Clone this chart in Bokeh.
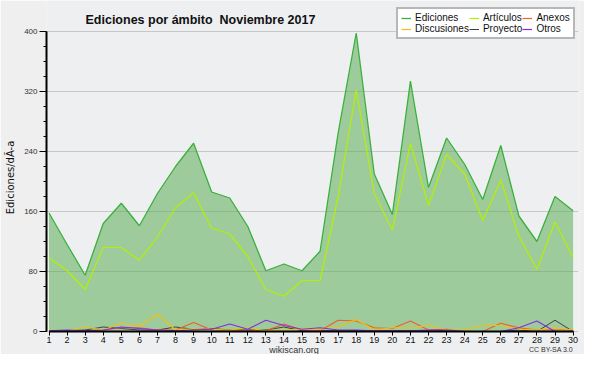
from bokeh.plotting import figure
from bokeh.models import (ColumnDataSource, SingleIntervalTicker, FixedTicker, Legend, LegendItem,
                          Label, Range1d)
from bokeh.embed import file_html
from bokeh.resources import INLINE

days = list(range(1, 31))
ediciones = [158, 116, 75, 144, 171, 141, 184, 220, 251, 186, 178, 140, 81, 90, 81,
             107, 265, 398, 210, 156, 334, 192, 258, 223, 176, 248, 154, 120, 180, 161]
articulos = [98, 81, 56, 112, 112, 95, 126, 165, 185, 138, 130, 100, 56, 47, 68,
             68, 180, 322, 184, 135, 251, 168, 236, 210, 148, 202, 127, 83, 146, 99]
discusiones = [2, 0, 6, 2, 11, 7, 23, 2, 4, 3, 2, 5, 1, 2, 3,
               3, 6, 16, 2, 5, 5, 8, 2, 2, 8, 8, 3, 2, 5, 2]
anexos = [1, 1, 1, 2, 5, 5, 2, 2, 12, 2, 1, 1, 1, 10, 2,
          1, 15, 14, 5, 4, 14, 2, 3, 0, 0, 11, 5, 2, 2, 2]
proyecto = [0, 1, 2, 6, 4, 2, 2, 6, 3, 4, 2, 2, 2, 6, 1,
            1, 1, 1, 1, 1, 1, 1, 1, 0, 0, 0, 2, 0, 15, 0]
otros = [1, 2, 1, 2, 6, 4, 2, 1, 2, 3, 10, 3, 15, 8, 3,
         5, 2, 2, 1, 1, 1, 2, 2, 0, 0, 0, 5, 14, 0, 0]
y_ticks_interval = 80
y_max = 400

# layout (pixels): frame covers the full figure height; value axis 0..400 sits
# between pixel rows TOP_PX and ZERO_PX, the x axis is drawn at y = 0 inside it.
W, H = 584, 354
TOP_PX, ZERO_PX = 31, 331
ppu = (ZERO_PX - TOP_PX) / y_max
y_lo = -(H - ZERO_PX) / ppu
y_hi = ZERO_PX / ppu

src = ColumnDataSource(dict(x=days, ed=ediciones, art=articulos, dis=discusiones,
                            anx=anexos, pro=proyecto, otr=otros, zero=[0] * len(days)))

p = figure(width=W, height=H, output_backend="svg", toolbar_location=None,
           x_range=Range1d(days[0] - 0.14, days[-1] + 0.3), y_range=Range1d(y_lo, y_hi))
p.min_border_left = 46
p.min_border_right = 6
p.min_border_top = 0
p.min_border_bottom = 0
p.border_fill_color = "#efefef"
p.background_fill_color = "#eeeff1"
p.outline_line_color = None

p.varea(x="x", y1="zero", y2="ed", source=src, fill_color="#4ca747", fill_alpha=0.5)
r_ed = p.line("x", "ed", source=src, line_color="#3cb03c", line_width=1.3)
r_art = p.line("x", "art", source=src, line_color="#b4f000", line_width=1.2)
r_pro = p.line("x", "pro", source=src, line_color="#404040", line_width=1)
r_anx = p.line("x", "anx", source=src, line_color="#f06028", line_width=1.2)
r_dis = p.line("x", "dis", source=src, line_color="#f0c010", line_width=1.2)
r_otr = p.line("x", "otr", source=src, line_color="#8a2be2", line_width=1.2)

# x axis drawn at value 0
p.xaxis.fixed_location = 0
p.xaxis.bounds = (days[0], days[-1])
p.xaxis.ticker = FixedTicker(ticks=days)
p.xaxis.major_label_text_font = "Liberation Sans"
p.xaxis.major_label_text_font_size = "9px"
p.xaxis.major_label_text_color = "#111111"
p.xaxis.major_tick_out = 4
p.xaxis.major_tick_in = 0
p.xaxis.major_label_standoff = 1
p.xaxis.axis_line_width = 2
p.xaxis.axis_line_color = "black"
p.xaxis.major_tick_line_color = "black"

p.yaxis.bounds = (0, y_max)
p.yaxis.ticker = SingleIntervalTicker(interval=y_ticks_interval, num_minor_ticks=4)
p.yaxis.major_label_text_font = "Liberation Sans"
p.yaxis.major_label_text_font_size = "8px"
p.yaxis.major_label_text_color = "#333333"
p.yaxis.major_tick_out = 7
p.yaxis.major_tick_in = 0
p.yaxis.minor_tick_out = 3
p.yaxis.minor_tick_in = 0
p.yaxis.major_label_standoff = 2
p.yaxis.axis_line_width = 2
p.yaxis.axis_line_color = "black"
p.yaxis.axis_label = "Ediciones/dÃ-a"
p.yaxis.axis_label_text_font = "DejaVu Sans"
p.yaxis.axis_label_text_font_style = "normal"
p.yaxis.axis_label_text_font_size = "10px"
p.yaxis.axis_label_standoff = 5
p.yaxis.axis_label_text_color = "#111111"

p.xgrid.grid_line_color = None
p.ygrid.grid_line_color = "#c8c8c8"
p.ygrid.grid_line_width = 1

legend = Legend(items=[
    LegendItem(label="Ediciones", renderers=[r_ed]),
    LegendItem(label="Discusiones", renderers=[r_dis]),
    LegendItem(label="Artículos", renderers=[r_art]),
    LegendItem(label="Proyecto", renderers=[r_pro]),
    LegendItem(label="Anexos", renderers=[r_anx]),
    LegendItem(label="Otros", renderers=[r_otr]),
], ncols=3, location=(350, H - 39))
legend.label_text_font = "Liberation Sans"
legend.label_text_font_size = "10px"
legend.label_text_color = "#111111"
legend.label_height = 10
legend.label_standoff = 4
legend.glyph_width = 10
legend.glyph_height = 10
legend.spacing = 0
legend.padding = 3
legend.margin = 0
legend.border_line_color = "#707070"
legend.border_line_width = 2
legend.background_fill_color = "white"
legend.background_fill_alpha = 1
p.add_layout(legend, "center")

title = Label(x=39, y=H - 19, x_units="screen", y_units="screen",
              text="Ediciones por ámbito\u00a0 Noviembre 2017", text_align="left",
              text_baseline="alphabetic", text_font="Liberation Sans",
              text_font_style="bold", text_font_size="12.5px", text_color="#111111")
p.add_layout(title)

site = Label(x=14.55, y=5, y_units="screen", text="wikiscan.org", text_align="center",
             text_baseline="middle", text_font="Liberation Sans", text_font_size="9px",
             text_color="#333333")
p.add_layout(site)

cc = Label(x=30, y=5, y_units="screen", text="CC BY-SA 3.0", text_align="right",
           text_baseline="middle", text_font="Liberation Sans", text_font_size="7px",
           text_color="#333333")
p.add_layout(cc)

open("out.html", "w").write(file_html(p, INLINE))
